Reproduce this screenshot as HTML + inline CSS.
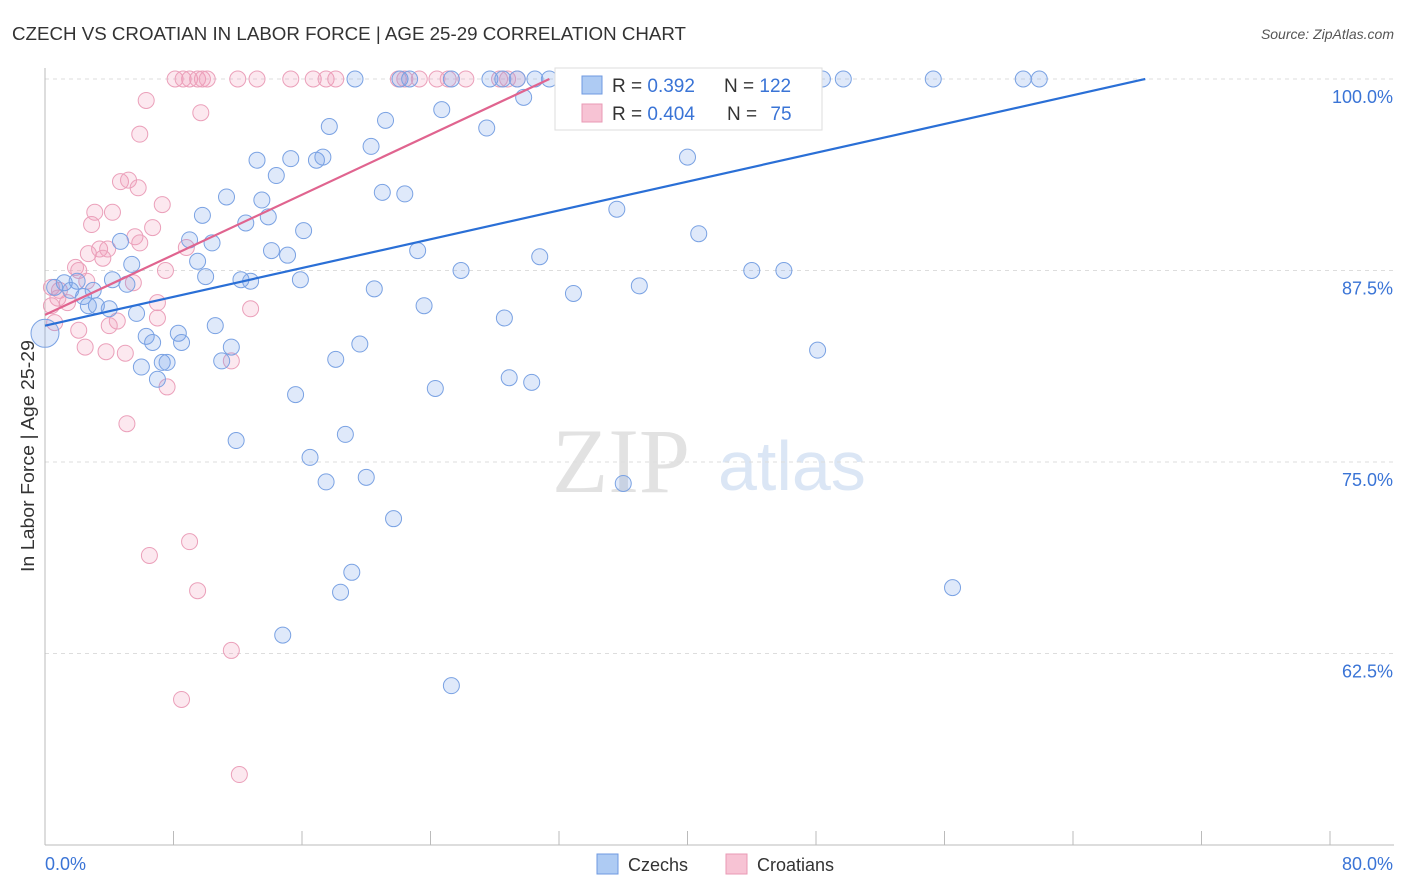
<!DOCTYPE html>
<html><head><meta charset="utf-8"><style>
body{margin:0;background:#fff;font-family:"Liberation Sans",sans-serif;}
svg{display:block}
</style></head><body>
<svg id="chart" width="1406" height="892">
<text x="12" y="40" font-size="18.5" fill="#333" textLength="674" lengthAdjust="spacingAndGlyphs">CZECH VS CROATIAN IN LABOR FORCE | AGE 25-29 CORRELATION CHART</text>
<text x="1394" y="39" font-size="14" fill="#555" font-style="italic" text-anchor="end">Source: ZipAtlas.com</text>
<text x="34" y="456" font-size="18" fill="#333" text-anchor="middle" textLength="232" lengthAdjust="spacingAndGlyphs" transform="rotate(-90 34 456)">In Labor Force | Age 25-29</text>
<g>
<text x="552" y="492" font-size="92" fill="#e2e2e2" font-family="Liberation Serif,serif">ZIP</text>
<text x="718" y="490" font-size="70" fill="#dbe6f5">atlas</text>
</g>
<g id="grid"></g><g id="axes"></g><g id="pts"></g><g id="lines"></g>
<g>
<rect x="555" y="68" width="267" height="62" fill="#fff" stroke="#ddd"/>
<rect x="582" y="76" width="20" height="18" fill="#aecbf3" stroke="#6f9ae0"/>
<text x="612" y="92" font-size="19" fill="#333">R = <tspan fill="#3a74d6">0.392</tspan></text>
<text x="724" y="92" font-size="19" fill="#333">N = <tspan fill="#3a74d6">122</tspan></text>
<rect x="582" y="104" width="20" height="18" fill="#f7c3d4" stroke="#e99ab5"/>
<text x="612" y="120" font-size="19" fill="#333">R = <tspan fill="#3a74d6">0.404</tspan></text>
<text x="727" y="120" font-size="19" fill="#333">N = <tspan fill="#3a74d6" dx="8">75</tspan></text>
</g>
<g>
<rect x="597" y="854" width="21" height="20" fill="#aecbf3" stroke="#6f9ae0"/>
<text x="628" y="871" font-size="18" fill="#333">Czechs</text>
<rect x="726" y="854" width="21" height="20" fill="#f7c3d4" stroke="#e99ab5"/>
<text x="757" y="871" font-size="18" fill="#333">Croatians</text>
</g>
</svg>
<script>
const czechX=[19.3,22.1,22.7,25.3,27.7,28.5,29.4,30.5,31.4,34.2,37.0,38.3,40.8,44.5,45.5,48.4,49.7,55.3,60.9,61.9,24.7,29.8,27.5,17.7,21.2,20.3,13.2,15.3,16.9,17.3,14.4,40.0,21.0,22.4,11.3,13.5,9.8,35.6,12.5,13.9,16.1,40.7,9.0,10.4,4.7,14.1,15.1,23.2,30.8,9.5,5.4,25.9,44.0,46.0,10.0,15.9,12.2,12.8,4.2,5.1,20.5,32.9,37.0,3.0,2.4,3.2,4.0,23.6,2.7,1.2,2.0,1.6,0.6,28.6,5.7,10.6,6.3,6.7,8.3,8.5,19.6,11.6,48.1,18.1,6.0,7.3,7.6,11.0,7.0,28.9,30.3,24.3,15.6,11.9,18.7,16.5,17.5,20.0,36.0,21.7,19.1,18.4,56.5,14.8,25.3];
const czechY=[100,100,100,100,100,100,100,100,100,100,100,100,100,100,100,100,100,100,100,100,98.0,98.8,96.8,96.9,97.3,95.6,94.7,94.8,94.7,94.9,93.7,94.9,92.6,92.5,92.3,92.1,91.1,91.5,90.6,91.0,90.1,89.9,89.5,89.3,89.4,88.8,88.5,88.8,88.4,88.1,87.9,87.5,87.5,87.5,87.1,86.9,86.9,86.8,86.9,86.6,86.3,86.0,86.5,86.2,85.8,85.2,85.0,85.2,85.2,86.7,86.8,86.2,86.4,84.4,84.7,83.9,83.2,82.8,83.4,82.8,82.7,82.5,82.3,81.7,81.2,81.5,81.5,81.6,80.4,80.5,80.2,79.8,79.4,76.4,76.8,75.3,73.7,74.0,73.6,71.3,67.8,66.5,66.8,63.7,60.4];
const croX=[8.1,8.6,9.0,9.5,9.8,10.1,12.0,13.2,15.3,16.7,17.5,18.1,22.0,22.4,23.3,24.4,25.1,26.2,28.3,28.8,29.4,33.2,33.5,6.3,9.7,5.9,4.7,5.2,5.8,7.3,3.1,4.2,2.9,6.7,5.6,5.9,3.4,3.9,8.8,2.7,3.6,1.9,7.5,2.1,2.6,5.5,0.4,0.9,0.8,1.4,0.4,7.0,12.8,0.6,7.0,4.5,4.0,2.1,2.5,3.8,5.0,11.6,7.6,5.1,9.0,6.5,9.5,11.6,8.5,12.1];
const croY=[100,100,100,100,100,100,100,100,100,100,100,100,100,100,100,100,100,100,100,100,100,100,100,98.6,97.8,96.4,93.3,93.4,92.9,91.8,91.3,91.3,90.5,90.3,89.7,89.3,88.9,88.9,89.0,88.6,88.3,87.7,87.5,87.5,86.8,86.7,86.4,86.2,85.7,85.4,85.2,85.4,85.0,84.1,84.4,84.2,83.9,83.6,82.5,82.2,82.1,81.6,79.9,77.5,69.8,68.9,66.6,62.7,59.5,54.6];
const yTicks=[100,87.5,75,62.5];
const yTickLabels=["100.0%","87.5%","75.0%","62.5%"];
const xTickLabels=["0.0%","80.0%"];
const czechTrend=[[0,83.9],[68.5,100]];
const croTrend=[[0,84.6],[31.4,100]];
const NS="http://www.w3.org/2000/svg";
const sx=v=>45+v/80*1285, sy=v=>79+(100-v)/12.5*191.5;
function mk(tag,attrs,parent){const e=document.createElementNS(NS,tag);for(const k in attrs)e.setAttribute(k,attrs[k]);document.getElementById(parent).appendChild(e);return e;}
yTicks.forEach((t,i)=>{
 const l=mk('line',{x1:45,x2:1394,y1:sy(t),y2:sy(t),stroke:'#ddd','stroke-dasharray':'4,4'},'grid');
 
 
 const tx=mk('text',{x:1393,y:sy(t)+24,'font-size':18,fill:'#3a74d6','text-anchor':'end'},'axes');
 tx.textContent=yTickLabels[i];
 
 
});
const ax=mk('line',{x1:45,x2:1394,y1:845,y2:845,stroke:'#bbb'},'axes');


const ay=mk('line',{x1:45,x2:45,y1:68,y2:845,stroke:'#bbb'},'axes');


for(let i=0;i<=10;i++){const t=mk('line',{x1:sx(i*8),x2:sx(i*8),y1:831,y2:845,stroke:'#bbb'},'axes');
 
 }
[[0,'start',45],[80,'end',1393]].forEach((d,i)=>{const t=mk('text',{x:d[2],y:870,'font-size':18,fill:'#3a74d6','text-anchor':d[1]},'axes');t.textContent=xTickLabels[i];
 
 });
croX.forEach((x,i)=>{const c=mk('circle',{cx:sx(x),cy:sy(croY[i]),r:8,fill:'rgba(240,150,180,0.22)',stroke:'#eba0ba','stroke-width':1},'pts');
 
 });
czechX.forEach((x,i)=>{const c=mk('circle',{cx:sx(x),cy:sy(czechY[i]),r:8,fill:'rgba(110,155,230,0.22)',stroke:'#7aa2e3','stroke-width':1},'pts');
 
 });
const big=mk('circle',{cx:sx(0),cy:sy(83.4),r:14,fill:'rgba(110,155,230,0.22)',stroke:'#7aa2e3'},'pts');


const l1=mk('line',{x1:sx(czechTrend[0][0]),y1:sy(czechTrend[0][1]),x2:sx(czechTrend[1][0]),y2:sy(czechTrend[1][1]),stroke:'#2a6fd6','stroke-width':2.2},'lines');


const l2=mk('line',{x1:sx(croTrend[0][0]),y1:sy(croTrend[0][1]),x2:sx(croTrend[1][0]),y2:sy(croTrend[1][1]),stroke:'#e0648f','stroke-width':2.2},'lines');


</script>
</body></html>
